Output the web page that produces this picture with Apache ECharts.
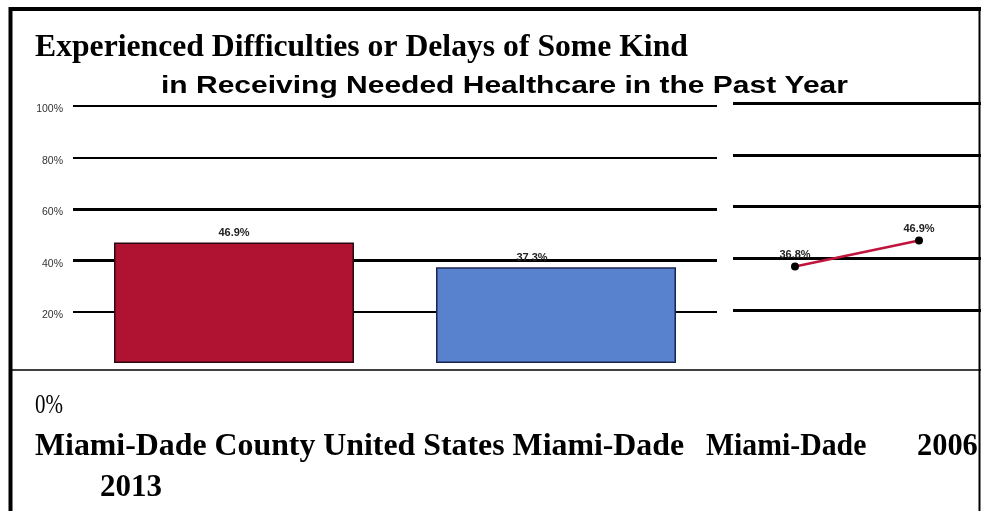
<!DOCTYPE html>
<html>
<head>
<meta charset="utf-8">
<script src="https://cdn.jsdelivr.net/npm/echarts@6/dist/echarts.min.js"></script>
<style>
  html, body { margin: 0; padding: 0; background: #fff; }
  #chart { width: 981px; height: 511px; }
</style>
</head>
<body>
<div id="chart"></div>
<script>
// data
const categories = ['Miami-Dade County', 'United States'];
const barValues = [46.9, 37.3];
const barColors = ['#AF1331', '#5881CE'];
const barBorders = ['#2a0a10', '#1a2450'];
const trendYears = ['2006', '2013'];
const trendValues = [36.8, 46.9];
const trendName = 'Miami-Dade';
const titleLines = ['Experienced Difficulties or Delays of Some Kind', 'in Receiving Needed Healthcare in the Past Year'];
const zeroLabel = '0%';

const serif = '"Liberation Serif", "Times New Roman", serif';
const sans = '"Liberation Sans", Arial, sans-serif';

const chart = echarts.init(document.getElementById('chart'));

const pct = v => v === 0 ? '' : v + '%';
const clear = 'rgba(0,0,0,0)';

// serif bold text helper for the loose labels under the plot
const bigText = (text, x, y, sx) => ({
    type: 'text', x: x, y: y, scaleX: sx,
    style: { text: text, font: 'bold 32px ' + serif, fill: '#000', textVerticalAlign: 'middle' }
});

chart.setOption({
    animation: false,
    backgroundColor: '#fff',
    grid: [
        { left: 73, right: 264, top: 106, height: 257 },
        { left: 733, right: 0, top: 103.5, height: 258 }
    ],
    xAxis: [
        {
            type: 'category', gridIndex: 0, data: categories,
            axisLine: { show: false }, axisTick: { show: false }, axisLabel: { show: false }
        },
        {
            type: 'category', gridIndex: 1, data: trendYears,
            axisLine: { show: false }, axisTick: { show: false }, axisLabel: { show: false }
        }
    ],
    yAxis: [
        {
            type: 'value', gridIndex: 0, min: 0, max: 100, interval: 20,
            axisLine: { show: false }, axisTick: { show: false },
            axisLabel: {
                formatter: pct, color: '#333', fontFamily: sans, fontSize: 10.5,
                margin: 10, verticalAlign: 'top', lineHeight: 7
            },
            splitLine: { showMinLine: false, lineStyle: { color: '#000', width: 2 } }
        },
        {
            type: 'value', gridIndex: 1, min: 0, max: 100, interval: 20,
            axisLine: { show: false }, axisTick: { show: false }, axisLabel: { show: false },
            splitLine: { showMinLine: false, lineStyle: { color: '#000', width: 3 } }
        },
        {
            // heavier 40% / 60% rules in the left panel
            type: 'value', gridIndex: 0, min: 0, max: 100, interval: 20,
            axisLine: { show: false }, axisTick: { show: false }, axisLabel: { show: false },
            splitLine: { showMinLine: true, lineStyle: { color: [clear, clear, '#000', '#000', clear, clear], width: 3 } }
        }
    ],
    series: [
        {
            type: 'bar', xAxisIndex: 0, yAxisIndex: 0, barWidth: 240,
            data: barValues.map((v, i) => ({
                value: v,
                itemStyle: { color: barColors[i], borderColor: barBorders[i], borderWidth: 1.5 },
                label: { offset: i === 1 ? [-24, 0] : [0, 0] }
            })),
            label: {
                show: true, position: 'top', distance: 4,
                formatter: p => p.value + '%',
                fontFamily: sans, fontWeight: 'bold', fontSize: 11, color: '#222'
            }
        },
        {
            type: 'line', name: trendName, xAxisIndex: 1, yAxisIndex: 1,
            data: trendValues,
            lineStyle: { color: '#C0143C', width: 2.5 },
            itemStyle: { color: '#000' },
            symbol: 'circle', symbolSize: 8,
            label: {
                show: true, position: 'top', distance: 2,
                formatter: p => p.value + '%',
                fontFamily: sans, fontWeight: 'bold', fontSize: 11, color: '#222'
            }
        }
    ],
    graphic: [
        // frame
        { type: 'line', shape: { x1: 10.5, y1: 7, x2: 10.5, y2: 511 }, style: { stroke: '#000', lineWidth: 4 } },
        { type: 'line', shape: { x1: 9, y1: 9, x2: 981, y2: 9 }, style: { stroke: '#000', lineWidth: 4 } },
        { type: 'line', shape: { x1: 979.5, y1: 7, x2: 979.5, y2: 511 }, style: { stroke: '#000', lineWidth: 2 } },
        { type: 'line', shape: { x1: 12, y1: 370, x2: 981, y2: 370 }, style: { stroke: '#000', lineWidth: 1.5 } },
        // titles
        bigText(titleLines[0], 35, 48, 0.99),
        {
            type: 'text', x: 161, y: 86, scaleX: 1.25,
            style: { text: titleLines[1], font: 'bold 24px ' + sans, fill: '#000', textVerticalAlign: 'middle' }
        },
        // bottom garbled labels
        {
            type: 'text', x: 35, y: 406, scaleX: 0.75,
            style: { text: zeroLabel, font: '28px ' + serif, fill: '#000', textVerticalAlign: 'middle' }
        },
        bigText(categories.join(' ') + ' ' + trendName, 35, 447, 0.995),
        bigText(trendName, 706, 447, 0.93),
        bigText(trendYears[0], 917, 447, 0.95),
        bigText(trendYears[1], 100, 488, 0.97)
    ]
});
</script>
</body>
</html>
